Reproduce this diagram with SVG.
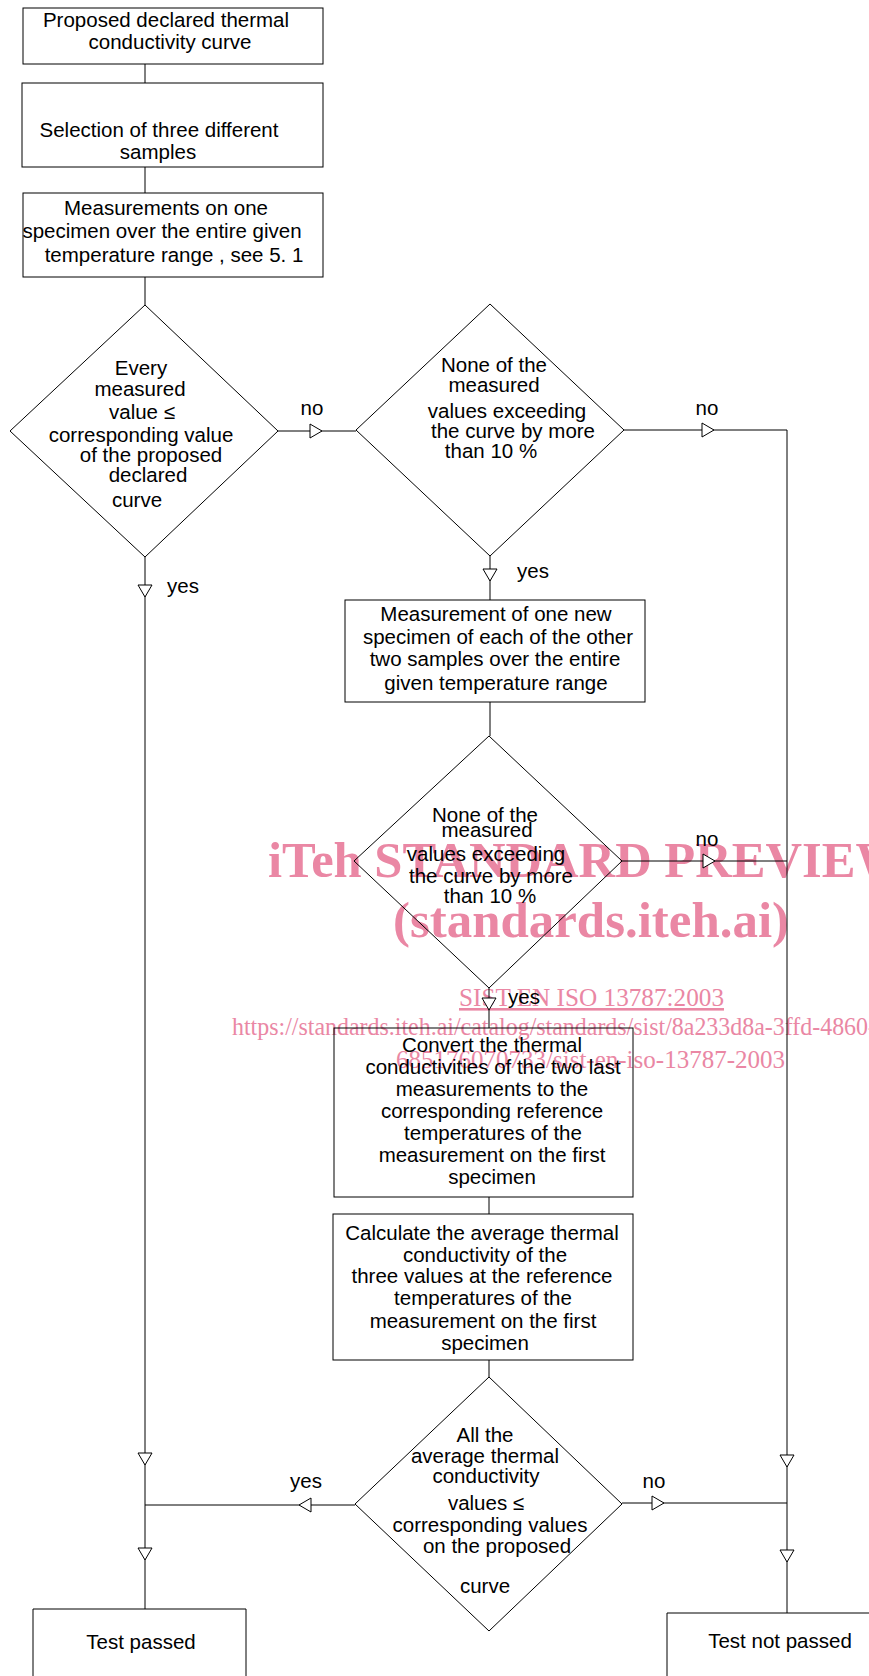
<svg xmlns="http://www.w3.org/2000/svg" xmlns:xlink="http://www.w3.org/1999/xlink" width="869" height="1676" viewBox="0 0 869 1676">
<style>
.shape{fill:none;stroke:#000;stroke-width:1}
.t{font-family:"Liberation Sans",Arial,sans-serif;font-size:20.5px;fill:#000;text-anchor:middle}
.c{fill:none;stroke:#000;stroke-width:1}
.a{fill:#fff;stroke:#000;stroke-width:1}
.wm{font-family:"Liberation Serif","Times New Roman",serif;fill:#ea87a4}
</style>
<defs>
<path id="ar" d="M-12,-7 L0,0 L-12,7 Z"/>
</defs>
<rect width="869" height="1676" fill="#fff"/>
<g id="watermark">
<text class="wm" x="268" y="877" font-size="50" font-weight="bold" textLength="638" lengthAdjust="spacingAndGlyphs">iTeh STANDARD PREVIEW</text>
<text class="wm" x="393" y="937" font-size="51" font-weight="bold" textLength="396" lengthAdjust="spacingAndGlyphs">(standards.iteh.ai)</text>
<text class="wm" x="459" y="1006" font-size="26" textLength="265" lengthAdjust="spacingAndGlyphs" text-decoration="underline">SIST EN ISO 13787:2003</text>
<text class="wm" x="232" y="1035" font-size="25" textLength="644" lengthAdjust="spacingAndGlyphs">https://standards.iteh.ai/catalog/standards/sist/8a233d8a-3ffd-4860-</text>
<text class="wm" x="396" y="1068" font-size="25" textLength="389" lengthAdjust="spacingAndGlyphs">685176070733/sist-en-iso-13787-2003</text>
</g>
<g id="connectors">
<path class="c" d="M145,64 V83 M145,167 V193 M145,277 V305"/>
<path class="c" d="M278,431 H356"/>
<path class="c" d="M624,430 H787 V1613"/>
<path class="c" d="M145,557 V1609"/>
<path class="c" d="M490,556 V600 M490,702 V736"/>
<path class="c" d="M622,861 H787"/>
<path class="c" d="M489,988 V1028 M489,1197 V1214 M489,1360 V1377"/>
<path class="c" d="M355,1505 H145"/>
<path class="c" d="M622,1503 H787"/>
<use xlink:href="#ar" class="a" transform="translate(322,431)"/>
<use xlink:href="#ar" class="a" transform="translate(714,430)"/>
<use xlink:href="#ar" class="a" transform="translate(715,861)"/>
<use xlink:href="#ar" class="a" transform="translate(664,1503)"/>
<use xlink:href="#ar" class="a" transform="translate(299,1505) rotate(180)"/>
<use xlink:href="#ar" class="a" transform="translate(145,597) rotate(90)"/>
<use xlink:href="#ar" class="a" transform="translate(490,581) rotate(90)"/>
<use xlink:href="#ar" class="a" transform="translate(489,1010) rotate(90)"/>
<use xlink:href="#ar" class="a" transform="translate(145,1465) rotate(90)"/>
<use xlink:href="#ar" class="a" transform="translate(145,1560) rotate(90)"/>
<use xlink:href="#ar" class="a" transform="translate(787,1467) rotate(90)"/>
<use xlink:href="#ar" class="a" transform="translate(787,1562) rotate(90)"/>
<text class="t" x="312" y="415">no</text>
<text class="t" x="707" y="415">no</text>
<text class="t" x="707" y="846">no</text>
<text class="t" x="654" y="1488">no</text>
<text class="t" x="183" y="593">yes</text>
<text class="t" x="533" y="578">yes</text>
<text class="t" x="524" y="1004">yes</text>
<text class="t" x="306" y="1488">yes</text>
</g>
<g id="n1">
<rect class="shape" x="23" y="8" width="300" height="56"/>
<text class="t" x="166" y="27">Proposed declared thermal</text>
<text class="t" x="170" y="49">conductivity curve</text>
</g>
<g id="n2">
<rect class="shape" x="22" y="83" width="301" height="84"/>
<text class="t" x="159" y="137">Selection of three different</text>
<text class="t" x="158" y="159">samples</text>
</g>
<g id="n3">
<rect class="shape" x="23" y="193" width="300" height="84"/>
<text class="t" x="166" y="215">Measurements on one</text>
<text class="t" x="162" y="238">specimen over the entire given</text>
<text class="t" x="174" y="262">temperature range , see 5. 1</text>
</g>
<g id="d1">
<polygon class="shape" points="145,305 278,431 145,557 10,431"/>
<text class="t" x="141" y="375">Every</text>
<text class="t" x="140" y="396">measured</text>
<text class="t" x="142" y="419">value ≤</text>
<text class="t" x="141" y="442">corresponding value</text>
<text class="t" x="151" y="462">of the proposed</text>
<text class="t" x="148" y="482">declared</text>
<text class="t" x="137" y="507">curve</text>
</g>
<g id="d2">
<polygon class="shape" points="490,304 624,430 490,556 356,430"/>
<text class="t" x="494" y="372">None of the</text>
<text class="t" x="494" y="392">measured</text>
<text class="t" x="507" y="418">values exceeding</text>
<text class="t" x="513" y="438">the curve by more</text>
<text class="t" x="491" y="458">than 10 %</text>
</g>
<g id="n4">
<rect class="shape" x="345" y="600" width="300" height="102"/>
<text class="t" x="496" y="621">Measurement of one new</text>
<text class="t" x="498" y="644">specimen of each of the other</text>
<text class="t" x="495" y="666">two samples over the entire</text>
<text class="t" x="496" y="690">given temperature range</text>
</g>
<g id="d3">
<polygon class="shape" points="489,736 622,861 489,988 354,861"/>
<text class="t" x="485" y="822">None of the</text>
<text class="t" x="487" y="837">measured</text>
<text class="t" x="486" y="861">values exceeding</text>
<text class="t" x="491" y="883">the curve by more</text>
<text class="t" x="490" y="903">than 10 %</text>
</g>
<g id="n5">
<rect class="shape" x="334" y="1028" width="299" height="169"/>
<text class="t" x="492" y="1052">Convert the thermal</text>
<text class="t" x="493" y="1074">conductivities of the two last</text>
<text class="t" x="492" y="1096">measurements to the</text>
<text class="t" x="492" y="1118">corresponding reference</text>
<text class="t" x="493" y="1140">temperatures of the</text>
<text class="t" x="492" y="1162">measurement on the first</text>
<text class="t" x="492" y="1184">specimen</text>
</g>
<g id="n6">
<rect class="shape" x="333" y="1214" width="300" height="146"/>
<text class="t" x="482" y="1240">Calculate the average thermal</text>
<text class="t" x="485" y="1262">conductivity of the</text>
<text class="t" x="482" y="1283">three values at the reference</text>
<text class="t" x="483" y="1305">temperatures of the</text>
<text class="t" x="483" y="1328">measurement on the first</text>
<text class="t" x="485" y="1350">specimen</text>
</g>
<g id="d4">
<polygon class="shape" points="489,1377 622,1504 489,1631 355,1504"/>
<text class="t" x="485" y="1442">All the</text>
<text class="t" x="485" y="1463">average thermal</text>
<text class="t" x="486" y="1483">conductivity</text>
<text class="t" x="486" y="1510">values ≤</text>
<text class="t" x="490" y="1532">corresponding values</text>
<text class="t" x="497" y="1553">on the proposed</text>
<text class="t" x="485" y="1593">curve</text>
</g>
<g id="n7">
<path class="shape" d="M33,1690 V1609 H246 V1690"/>
<text class="t" x="141" y="1649">Test passed</text>
</g>
<g id="n8">
<path class="shape" d="M667,1690 V1613 H880"/>
<text class="t" x="780" y="1648">Test not passed</text>
</g>
</svg>
